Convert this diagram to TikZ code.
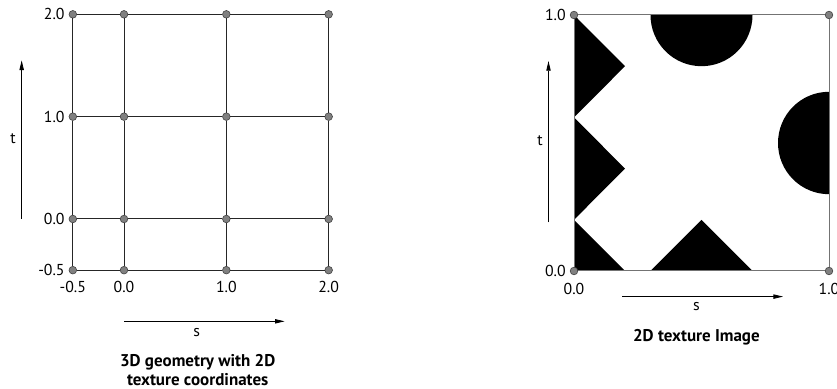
\documentclass[tikz,border=0pt]{standalone}
\usepackage{fontspec}
\setmainfont{PT Sans}
\usetikzlibrary{arrows.meta}

\begin{document}
\begin{tikzpicture}[
  font=\fontsize{13.5}{15}\selectfont,
  dot/.style={circle, draw=black!75, fill=black!50, line width=0.5pt, inner sep=0pt, minimum size=2.3mm},
  gridline/.style={draw=black!85, line width=0.85pt},
  frameline/.style={draw=black!55, line width=0.85pt},
  axis/.style={-{Triangle[length=2.9mm,width=1.3mm]}, line width=0.7pt},
  title/.style={font=\fontsize{14.5}{16}\bfseries\selectfont, align=center}
]
  \useasboundingbox (0,0) rectangle (25.11,11.67);

  % left: geometry with texture coordinates
  \begin{scope}[shift={(3.72,5.10)}, x=3.07cm, y=3.07cm]
    \foreach \s [count=\i] in {-0.5,0,1,2}
      \foreach \t [count=\j] in {-0.5,0,1,2}
        \node[dot] (g-\i-\j) at (\s,\t) {};
    \foreach \k in {1,...,4}
      \foreach \a/\b in {1/2,2/3,3/4} {
        \draw[gridline] (g-\a-\k) -- (g-\b-\k);
        \draw[gridline] (g-\k-\a) -- (g-\k-\b);
      }
    \foreach \lab [count=\i] in {-0.5,0.0,1.0,2.0} {
      \node[anchor=east] (tl-\i) at (g-1-\i.west) {\lab};
      \node (sl-\i) at ([yshift=-0.51cm]g-\i-1) {\lab};
    }
    \coordinate (t0) at (-1,0);
    \coordinate (t1) at (-1,1.55);
    \draw[axis] (t0) -- (t1);
    \node (tlab) at (-1.085,0.78) {t};
    \coordinate (s0) at (0,-1.0);
    \coordinate (s1) at (1.57,-1.0);
    \draw[axis] (s0) -- (s1);
    \node (slab) at (0.71,-1.11) {s};
    \node[title] (geotitle) at (0.72,-1.475) {3D geometry with 2D\\texture coordinates};
  \end{scope}

  % right: texture image
  \begin{scope}[shift={(17.22,3.54)}, x=7.65cm, y=7.68cm]
    \fill (0,1) -- (0.2,0.8) -- (0,0.6) -- (0.2,0.4) -- (0,0.2) -- (0.2,0) -- (0,0) -- cycle;
    \fill (0.3,0) -- (0.5,0.2) -- (0.7,0) -- cycle;
    \fill (0.3,1) arc[start angle=180, end angle=360, radius=0.2] -- cycle;
    \fill (1,0.7) arc[start angle=90, end angle=270, radius=0.2] -- cycle;
    \node[dot] (c-1) at (0,0) {};
    \node[dot] (c-2) at (1,0) {};
    \node[dot] (c-3) at (1,1) {};
    \node[dot] (c-4) at (0,1) {};
    \draw[frameline] (c-1) -- (c-2);
    \draw[frameline] (c-2) -- (c-3);
    \draw[frameline] (c-3) -- (c-4);
    \draw[frameline] (c-4) -- (c-1);
    \node[anchor=east] (tt-1) at (c-1.west) {0.0};
    \node[anchor=east] (tt-2) at (c-4.west) {1.0};
    \node (ss-1) at ([yshift=-0.54cm]c-1) {0.0};
    \node (ss-2) at ([yshift=-0.54cm]c-2) {1.0};
    \coordinate (u0) at (-0.1,0.19);
    \coordinate (u1) at (-0.1,0.82);
    \draw[axis] (u0) -- (u1);
    \node (ulab) at (-0.133,0.51) {t};
    \coordinate (v0) at (0.19,-0.10);
    \coordinate (v1) at (0.82,-0.10);
    \draw[axis] (v0) -- (v1);
    \node (vlab) at (0.48,-0.137) {s};
    \node[title] (imgtitle) at (0.48,-0.258) {2D texture Image};
  \end{scope}
\end{tikzpicture}
\end{document}
